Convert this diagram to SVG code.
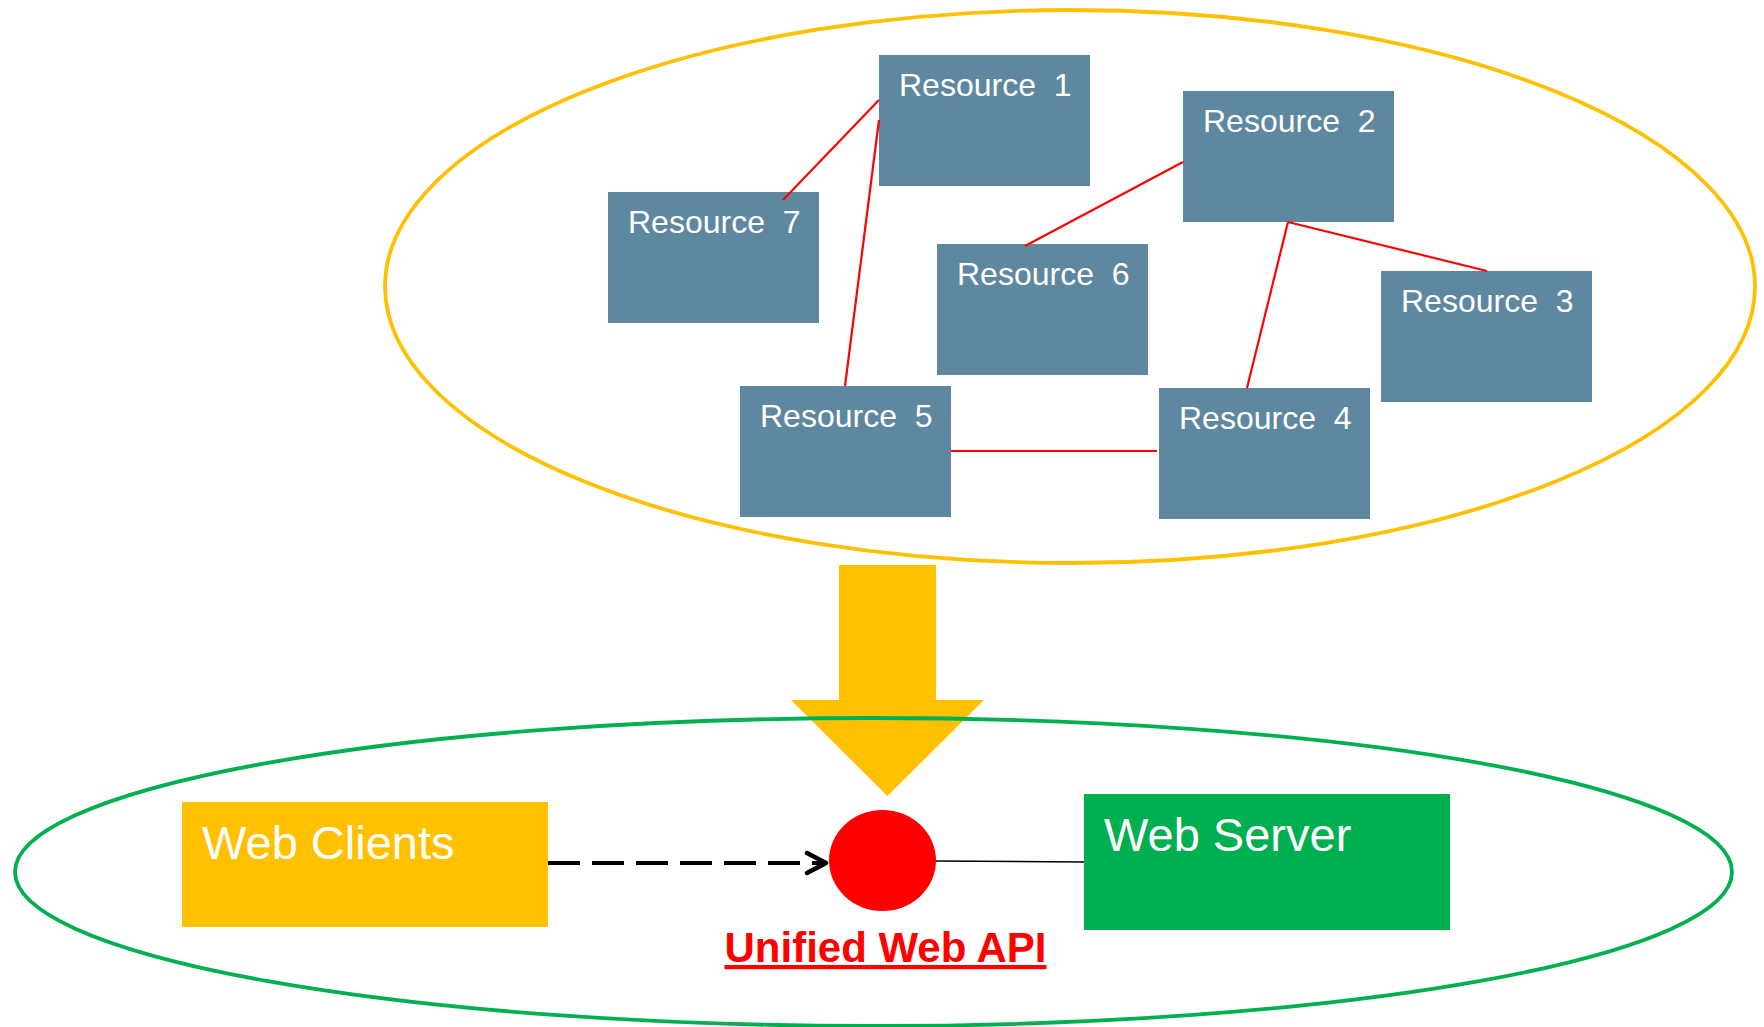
<svg xmlns="http://www.w3.org/2000/svg" width="1764" height="1027" viewBox="0 0 1764 1027">
  <defs>
    <style>
      .res rect { fill: #5E87A0; }
      .res text { fill: #FFFFFF; font-family: "Liberation Sans", Arial, sans-serif; font-size: 32px; white-space: pre; }
      .link { stroke: #FF0000; stroke-width: 2.2; fill: none; }
      .big { fill: #FFFFFF; font-family: "Liberation Sans", Arial, sans-serif; font-size: 47px; }
    </style>
    <marker id="chevron" markerUnits="userSpaceOnUse" markerWidth="30" markerHeight="30" refX="22" refY="12" orient="auto" viewBox="0 0 30 24">
      <polyline points="3,2 22,12 3,22" fill="none" stroke="#000000" stroke-width="4.5" stroke-linecap="round" stroke-linejoin="round"/>
    </marker>
  </defs>

  <rect width="1764" height="1027" fill="#FFFFFF"/>

  <!-- resource domain -->
  <ellipse id="resource-domain" cx="1070" cy="286.5" rx="685" ry="276.5" fill="none" stroke="#FFC000" stroke-width="3.8"/>

  <g id="resource-1" class="res"><rect x="879" y="55" width="211" height="131"/><text x="899" y="96">Resource  1</text></g>
  <g id="resource-2" class="res"><rect x="1183" y="91" width="211" height="131"/><text x="1203" y="132">Resource  2</text></g>
  <g id="resource-3" class="res"><rect x="1381" y="271" width="211" height="131"/><text x="1401" y="312">Resource  3</text></g>
  <g id="resource-4" class="res"><rect x="1159" y="388" width="211" height="131"/><text x="1179" y="429">Resource  4</text></g>
  <g id="resource-5" class="res"><rect x="740" y="386" width="211" height="131"/><text x="760" y="427">Resource  5</text></g>
  <g id="resource-6" class="res"><rect x="937" y="244" width="211" height="131"/><text x="957" y="285">Resource  6</text></g>
  <g id="resource-7" class="res"><rect x="608" y="192" width="211" height="131"/><text x="628" y="233">Resource  7</text></g>

  <!-- links between resources, then the web-layer links -->
  <g id="connectors">
    <line class="link" x1="783" y1="200" x2="879" y2="100"/>
    <line class="link" x1="879" y1="120" x2="845" y2="386"/>
    <line class="link" x1="1025" y1="246" x2="1183" y2="162"/>
    <line class="link" x1="1288" y1="222" x2="1487" y2="271"/>
    <line class="link" x1="1288" y1="222" x2="1247" y2="388"/>
    <line class="link" x1="951" y1="451" x2="1157" y2="451"/>
    <line x1="548" y1="863" x2="826" y2="863" stroke="#000000" stroke-width="4" stroke-dasharray="32 12" marker-end="url(#chevron)"/>
    <line x1="936" y1="861" x2="1084" y2="862" stroke="#000000" stroke-width="1.6"/>
  </g>

  <!-- block arrow down to the API layer -->
  <polygon id="unify-arrow" points="839,565 936,565 936,700 984,700 887.5,796 791,700 839,700" fill="#FFC000"/>

  <!-- web layer -->
  <ellipse id="web-layer" cx="873.5" cy="872" rx="858.5" ry="154" fill="none" stroke="#00B050" stroke-width="3.8"/>

  <g id="web-clients">
    <rect x="182" y="802" width="366" height="125" fill="#FFC000"/>
    <text class="big" x="202" y="859">Web Clients</text>
  </g>

  <g id="web-server">
    <rect x="1084" y="794" width="366" height="136" fill="#00B050"/>
    <text class="big" x="1104" y="851">Web Server</text>
  </g>

  <g id="unified-api">
    <ellipse cx="882.5" cy="860.5" rx="53.5" ry="50.5" fill="#FF0000"/>
    <text x="885.5" y="962" text-anchor="middle" fill="#FF0000" font-family="'Liberation Sans', Arial, sans-serif" font-size="42" font-weight="bold" text-decoration="underline">Unified Web API</text>
  </g>
</svg>
